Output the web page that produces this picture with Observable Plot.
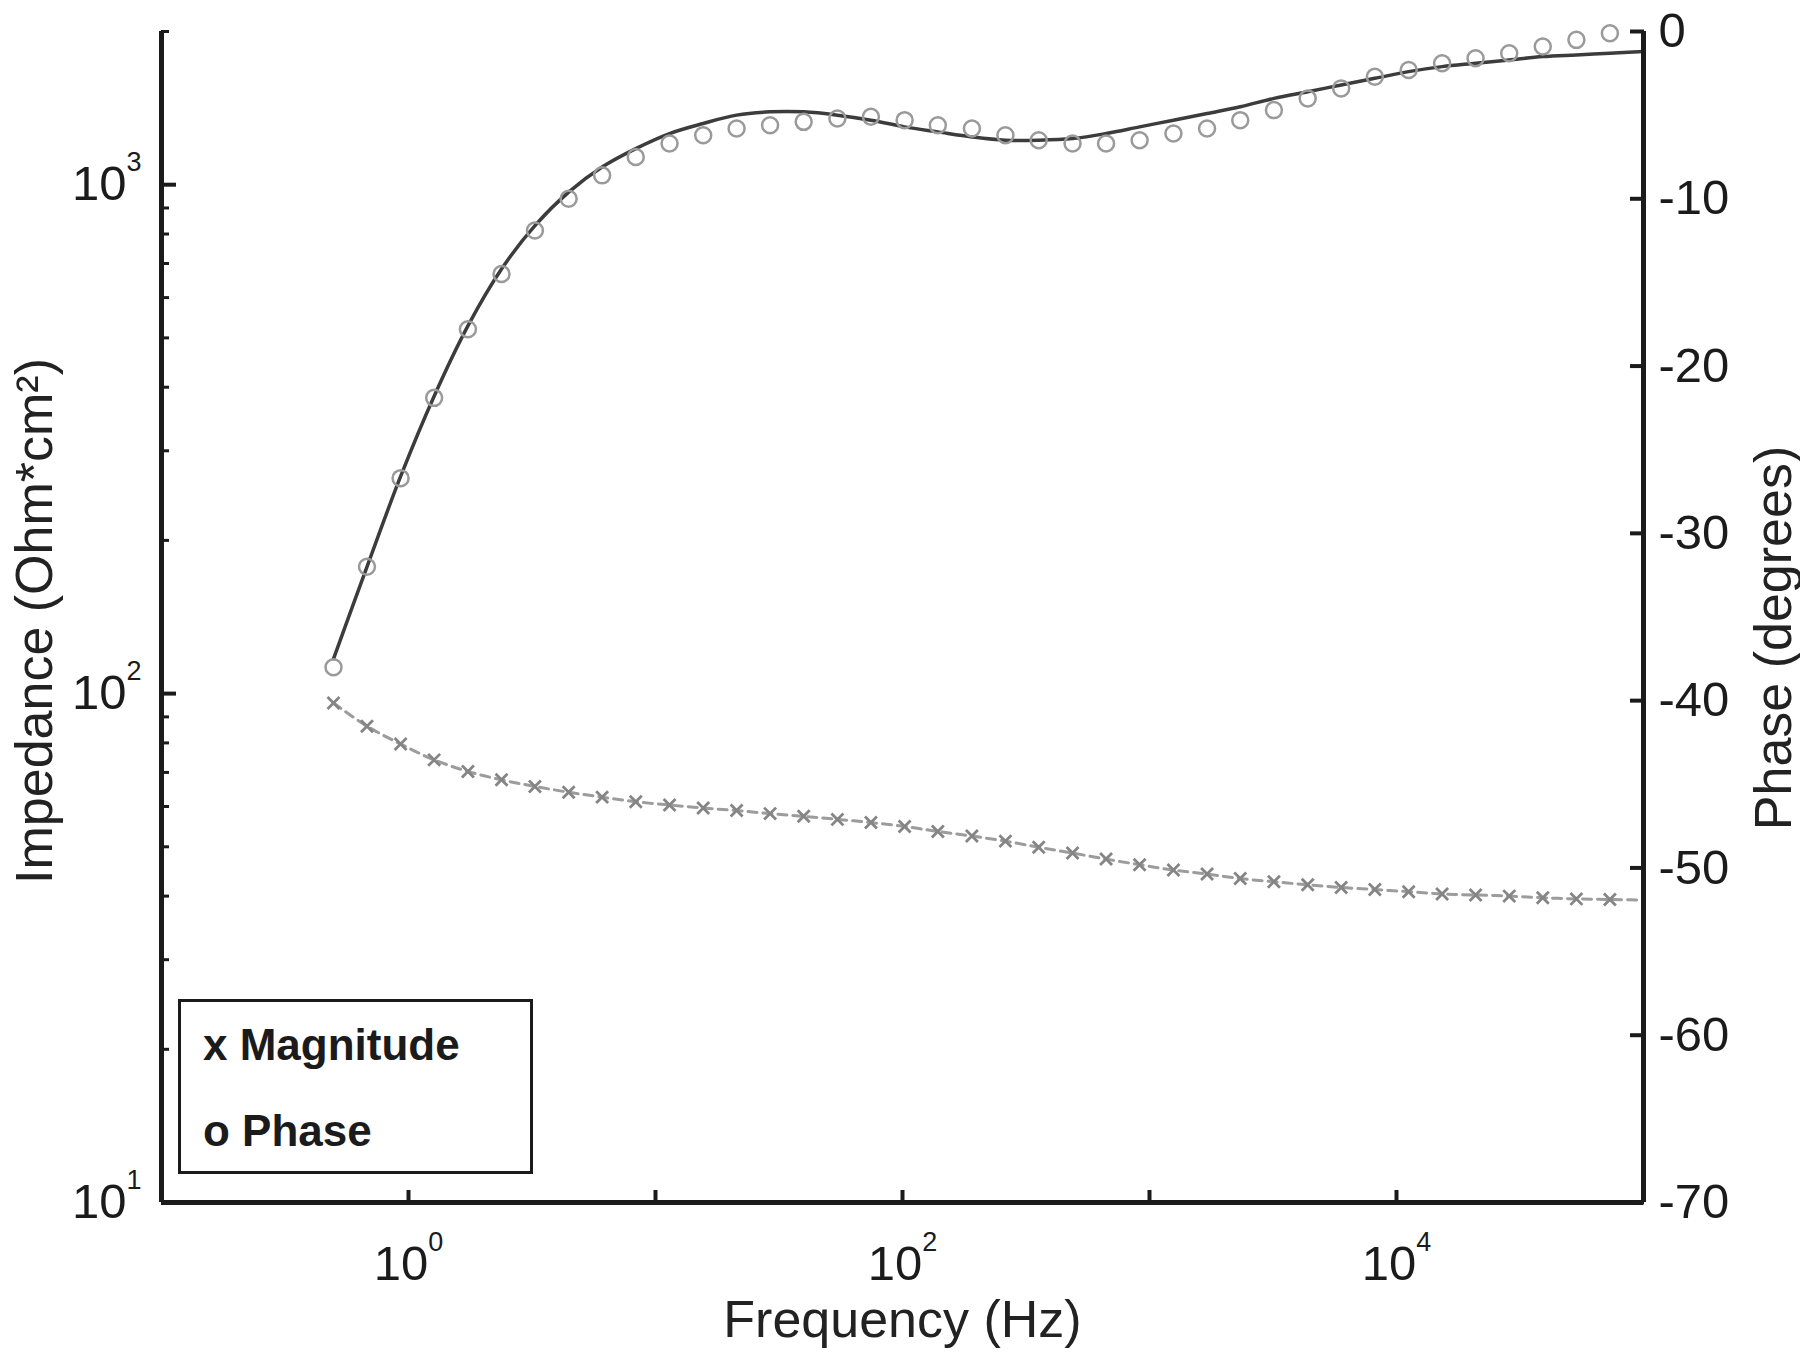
<!DOCTYPE html>
<html>
<head>
<meta charset="utf-8">
<script src="https://cdn.jsdelivr.net/npm/d3@7"></script>
<script src="https://cdn.jsdelivr.net/npm/@observablehq/plot@0.6"></script>
<style>
  html, body { margin: 0; padding: 0; background: #fff; }
  #chart { position: relative; width: 1800px; height: 1357px; font-family: "Liberation Sans", Arial, sans-serif; }
  #chart > svg { position: absolute; left: 0; top: 0; }
</style>
</head>
<body>
<div id="chart"></div>
<script>
// ---------------- data ----------------
const freq = [0.497, 0.679, 0.929, 1.27, 1.74, 2.38, 3.25, 4.45, 6.08, 8.32,
  11.4, 15.6, 21.3, 29.1, 39.8, 54.5, 74.5, 102, 139, 191,
  261, 356, 488, 667, 912, 1250, 1710, 2330, 3190, 4370,
  5970, 8170, 11200, 15300, 20900, 28600, 39100, 53500, 73100];

const magnitude = [95.8, 86.3, 79.6, 74.1, 70.3, 67.7, 65.7, 64.0, 62.6, 61.3,
  60.4, 59.6, 58.9, 58.1, 57.4, 56.6, 55.8, 54.8, 53.6, 52.5,
  51.3, 49.9, 48.6, 47.3, 46.1, 45.0, 44.2, 43.3, 42.7, 42.1,
  41.6, 41.2, 40.8, 40.4, 40.2, 40.0, 39.7, 39.5, 39.4];

const phase = [-38.0, -32.0, -26.7, -21.9, -17.8, -14.5, -11.9, -10.0, -8.6, -7.5,
  -6.7, -6.2, -5.8, -5.6, -5.4, -5.2, -5.1, -5.3, -5.6, -5.8,
  -6.2, -6.5, -6.7, -6.7, -6.5, -6.1, -5.8, -5.3, -4.7, -4.0,
  -3.4, -2.7, -2.3, -1.9, -1.6, -1.3, -0.9, -0.5, -0.1];

// fitted curves: same frequencies plus the end of the axis
const fitEndFreq = 100000;
const magnitudeFit = [95.8, 86.3, 79.6, 74.1, 70.3, 67.7, 65.7, 64.0, 62.6, 61.3,
  60.4, 59.6, 58.9, 58.1, 57.4, 56.6, 55.8, 54.8, 53.6, 52.5,
  51.3, 49.9, 48.6, 47.3, 46.1, 45.0, 44.2, 43.3, 42.7, 42.1,
  41.6, 41.2, 40.8, 40.4, 40.2, 40.0, 39.7, 39.5, 39.4, 39.3];
const phaseFit = [-37.5, -32.0, -26.6, -21.8, -17.6, -14.2, -11.6, -9.6, -8.1, -7.0,
  -6.1, -5.5, -5.0, -4.8, -4.8, -5.0, -5.3, -5.7, -6.0, -6.3,
  -6.5, -6.5, -6.4, -6.1, -5.7, -5.3, -4.9, -4.5, -4.0, -3.6,
  -3.2, -2.8, -2.4, -2.1, -1.9, -1.7, -1.5, -1.4, -1.3, -1.2];

const xDomain = [0.1, 100000];
const impedanceDomain = [10, 2000];
const phaseDomain = [-70, 0];
const xDecadeTicks = [1, 10, 100, 1000, 10000];
const xLabelTicks = [1, 100, 10000];
const yMajorTicks = [10, 100, 1000];
const yMinorTicks = [20, 30, 40, 50, 60, 70, 80, 90, 200, 300, 400, 500, 600, 700, 800, 900, 2000];
const phaseTicks = [0, -10, -20, -30, -40, -50, -60, -70];
const legendItems = [{ symbol: "x", label: "Magnitude" }, { symbol: "o", label: "Phase" }];
const xTitle = "Frequency (Hz)";
const yLeftTitle = "Impedance (Ohm*cm²)";
const yRightTitle = "Phase (degrees)";

// ---------------- tables ----------------
const fitFreq = freq.concat([fitEndFreq]);
const magData = freq.map((f, i) => ({ f, v: magnitude[i] }));
const magFitData = fitFreq.map((f, i) => ({ f, v: magnitudeFit[i] }));
const phaseData = freq.map((f, i) => ({ f, v: phase[i] }));
const phaseFitData = fitFreq.map((f, i) => ({ f, v: phaseFit[i] }));

// ---------------- layout / style ----------------
const W = 1800, H = 1357;
const margins = { marginTop: 31, marginRight: 157, marginBottom: 155, marginLeft: 161 };
const font = '"Liberation Sans", Arial, Helvetica, sans-serif';
const ink = "#1b1b1b";
const baseStyle = { fontFamily: font, fontSize: "49px", color: ink, background: "transparent", overflow: "visible" };
const powFmt = d => "10^" + Math.round(Math.log10(d));

const leftPlot = Plot.plot({
  width: W, height: H, ...margins,
  style: baseStyle,
  x: { type: "log", domain: xDomain, axis: null },
  y: { type: "log", domain: impedanceDomain, axis: null },
  marks: [
    Plot.line(magFitData, { x: "f", y: "v", stroke: "#9c9c9c", strokeWidth: 3, strokeDasharray: "9,6", curve: "catmull-rom" }),
    Plot.dot(magData, { x: "f", y: "v", symbol: "times", r: 5.5, stroke: "#858585", strokeWidth: 2.8 }),
    Plot.axisY(yMinorTicks, { anchor: "left", tickSize: -8, strokeWidth: 3, tickFormat: () => "", label: null }),
    Plot.axisY(yMajorTicks, { anchor: "left", tickSize: -15, tickPadding: 35, strokeWidth: 4, tickFormat: powFmt, label: null }),
    Plot.axisX(xDecadeTicks, { anchor: "bottom", tickSize: -12, strokeWidth: 4, tickFormat: () => "", label: null }),
    Plot.axisX(xLabelTicks, { anchor: "bottom", tickSize: 0, tickPadding: 43, tickFormat: powFmt, label: null }),
    Plot.ruleX([xDomain[0]], { stroke: ink, strokeWidth: 5 }),
    Plot.ruleY([impedanceDomain[0]], { stroke: ink, strokeWidth: 5 }),
    Plot.text([xTitle], { frameAnchor: "bottom", textAnchor: "middle", dy: 134, fontSize: 52, fill: "#222" }),
    Plot.text([yLeftTitle], { frameAnchor: "left", textAnchor: "middle", rotate: -90, dx: -126, dy: 4, fontSize: 52, fill: "#222" })
  ]
});

const rightPlot = Plot.plot({
  width: W, height: H, ...margins,
  style: baseStyle,
  x: { type: "log", domain: xDomain, axis: null },
  y: { type: "linear", domain: phaseDomain, axis: null },
  marks: [
    Plot.line(phaseFitData, { x: "f", y: "v", stroke: "#3c3c3c", strokeWidth: 3.5, curve: "catmull-rom" }),
    Plot.dot(phaseData, { x: "f", y: "v", r: 8, stroke: "#9a9a9a", strokeWidth: 2.5, fill: "none" }),
    Plot.axisY(phaseTicks, { anchor: "right", tickSize: -14, tickPadding: 29, strokeWidth: 4, tickFormat: d => String(d), label: null }),
    Plot.ruleX([xDomain[1]], { stroke: ink, strokeWidth: 5 }),
    Plot.text([yRightTitle], { frameAnchor: "right", textAnchor: "middle", rotate: -90, dx: 131, dy: 21, fontSize: 52, fill: "#222" })
  ]
});

// superscript exponents on power-of-ten labels
function superscript(svg) {
  svg.querySelectorAll("text").forEach(t => {
    const m = /^10\^(-?\d+)$/.exec(t.textContent);
    if (!m) return;
    t.textContent = "10";
    const ts = document.createElementNS("http://www.w3.org/2000/svg", "tspan");
    ts.setAttribute("dy", "-29");
    ts.setAttribute("font-size", "27px");
    ts.textContent = m[1];
    t.appendChild(ts);
  });
}
superscript(leftPlot);

const chart = document.getElementById("chart");
chart.appendChild(leftPlot);
chart.appendChild(rightPlot);

// legend box
const legend = d3.select(chart).append("svg")
  .attr("width", W).attr("height", H)
  .style("position", "absolute").style("left", 0).style("top", 0)
  .style("font-family", font);
legend.append("rect")
  .attr("x", 179.5).attr("y", 1000.5).attr("width", 352).attr("height", 172)
  .attr("fill", "#fff").attr("stroke", ink).attr("stroke-width", 3);
const rows = legend.selectAll("g.row").data(legendItems).join("g").attr("class", "row")
  .attr("transform", (d, i) => `translate(203, ${1060 + i * 86})`);
rows.append("text").attr("font-size", 44).attr("font-weight", "bold").attr("fill", ink)
  .text(d => d.symbol + " " + d.label);
</script>
</body>
</html>
